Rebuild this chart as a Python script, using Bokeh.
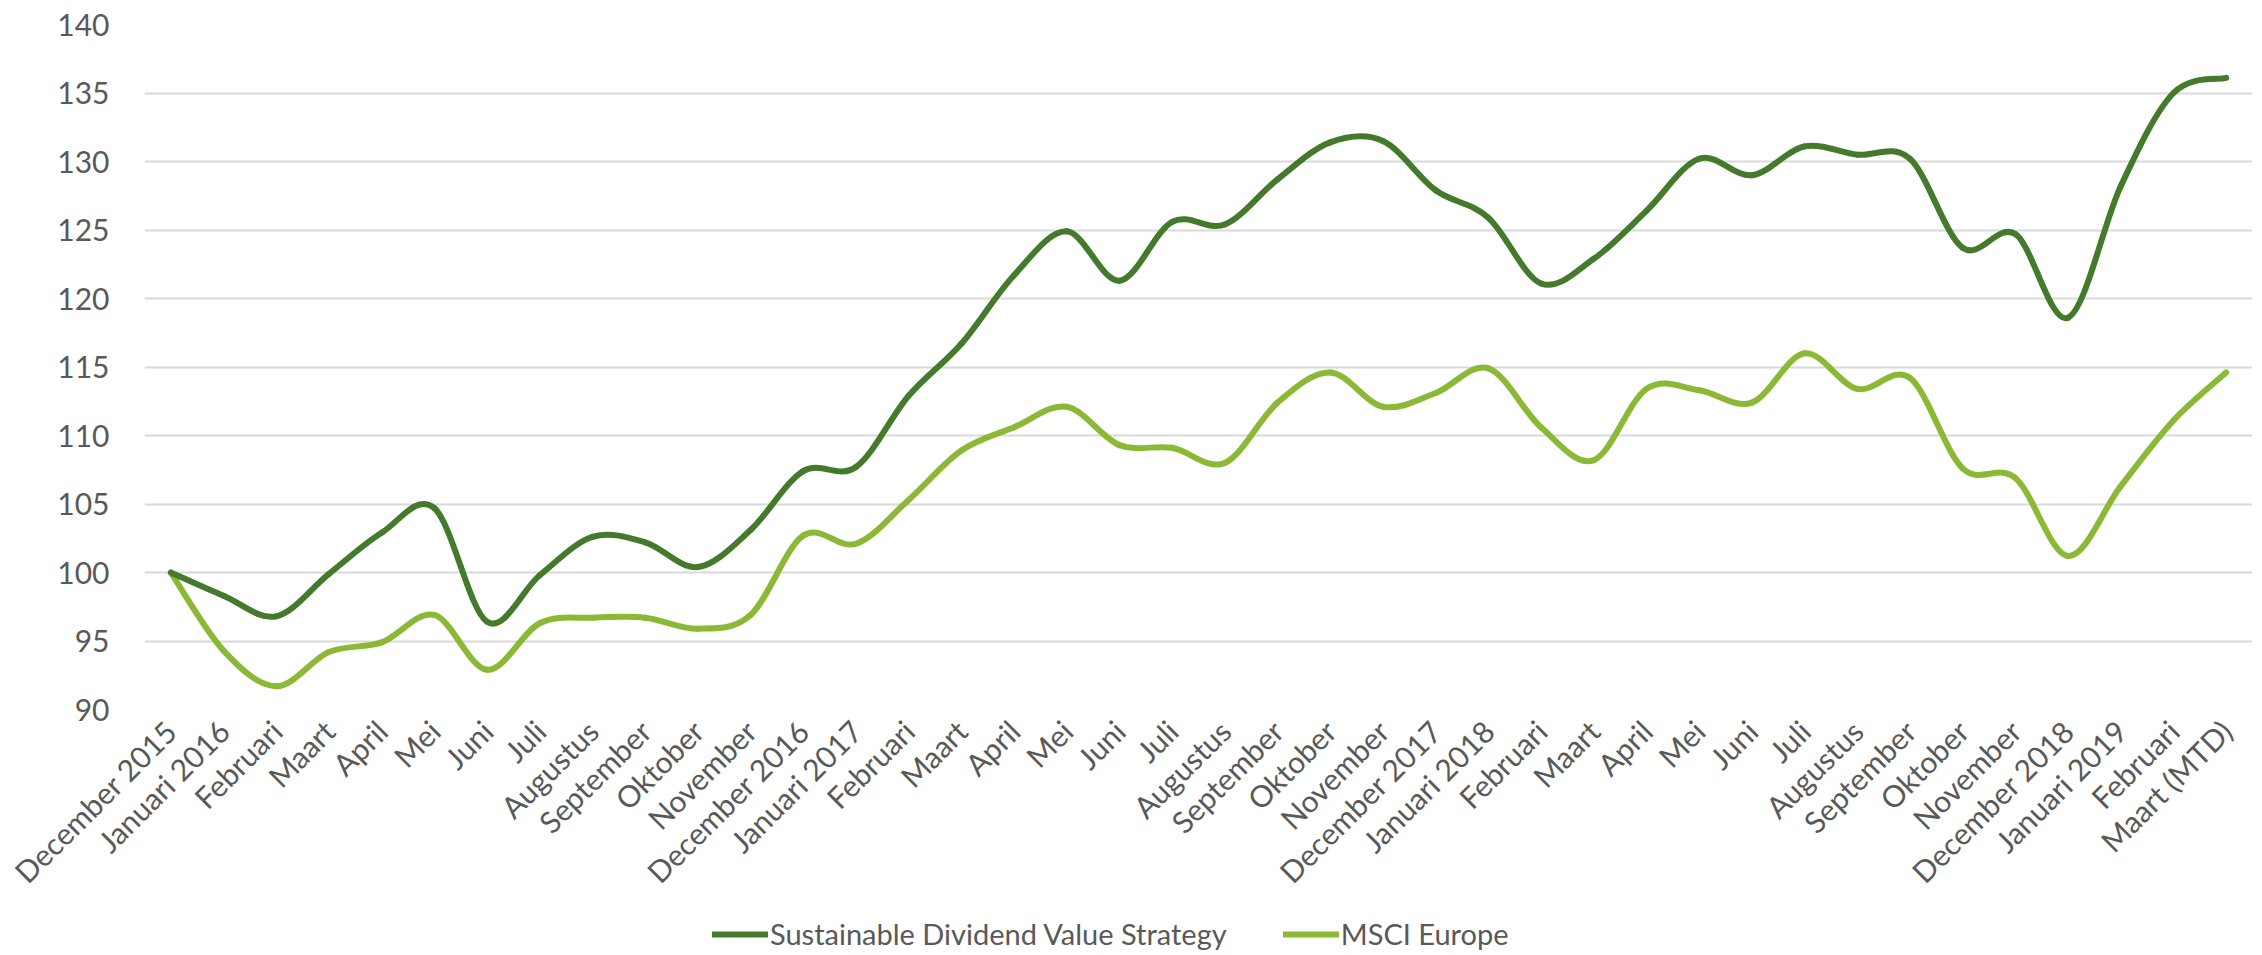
from bokeh.plotting import figure
from bokeh.layouts import column
from bokeh.models import FixedTicker, Legend, LegendItem, Range1d, ColumnDataSource
from bokeh.embed import file_html
from bokeh.resources import INLINE

months = ["December 2015", "Januari 2016", "Februari", "Maart", "April", "Mei", "Juni", "Juli",
          "Augustus", "September", "Oktober", "November", "December 2016", "Januari 2017",
          "Februari", "Maart", "April", "Mei", "Juni", "Juli", "Augustus", "September", "Oktober",
          "November", "December 2017", "Januari 2018", "Februari", "Maart", "April", "Mei", "Juni",
          "Juli", "Augustus", "September", "Oktober", "November", "December 2018", "Januari 2019",
          "Februari", "Maart (MTD)"]

sdv = [100.0, 98.3, 96.8, 99.9, 102.9, 104.7, 96.4, 99.8, 102.6, 102.2,
       100.4, 103.1, 107.4, 107.7, 112.9, 116.7, 121.7, 124.9, 121.3, 125.6,
       125.4, 128.7, 131.4, 131.5, 127.9, 125.9, 121.1, 122.9, 126.4, 130.2,
       129.0, 131.1, 130.5, 130.2, 123.7, 124.7, 118.6, 128.2, 135.0, 136.1]

msci = [100.0, 94.3, 91.7, 94.2, 94.9, 96.9, 92.9, 96.3, 96.7, 96.7,
        95.9, 96.9, 102.7, 102.1, 105.3, 108.9, 110.6, 112.1, 109.3, 109.1,
        108.0, 112.4, 114.6, 112.1, 113.1, 114.9, 110.6, 108.2, 113.4, 113.3,
        112.4, 116.0, 113.4, 114.2, 107.6, 106.9, 101.2, 106.3, 111.1, 114.6]

series_names = ["Sustainable Dividend Value Strategy", "MSCI Europe"]
series_colors = ["#447a2b", "#8cb935"]

y_ticks = [90, 95, 100, 105, 110, 115, 120, 125, 130, 135, 140]


def smooth_segments(ys):
    """Cubic Bezier segments through every data point (Excel-style smoothed line)."""
    n = len(ys)
    xs = list(range(n))
    d = dict(x0=[], y0=[], x1=[], y1=[], cx0=[], cy0=[], cx1=[], cy1=[])
    for i in range(n - 1):
        a = max(i - 1, 0)
        b = min(i + 2, n - 1)
        d["x0"].append(xs[i]); d["y0"].append(ys[i])
        d["x1"].append(xs[i + 1]); d["y1"].append(ys[i + 1])
        d["cx0"].append(xs[i] + (xs[i + 1] - xs[a]) / 6.0)
        d["cy0"].append(ys[i] + (ys[i + 1] - ys[a]) / 6.0)
        d["cx1"].append(xs[i + 1] - (xs[b] - xs[i]) / 6.0)
        d["cy1"].append(ys[i + 1] - (ys[b] - ys[i]) / 6.0)
    return ColumnDataSource(d)


FONT = "Lato"
TXT = "#595959"
LW = 6

p = figure(width=2262, height=905, output_backend="svg", toolbar_location=None,
           x_range=Range1d(-0.5, len(months) - 0.5), y_range=Range1d(90, 140),
           min_border_left=144, min_border_right=10, min_border_top=24, min_border_bottom=190)
p.outline_line_color = None
p.background_fill_color = "white"
p.border_fill_color = "white"

# y axis
p.yaxis.ticker = FixedTicker(ticks=y_ticks)
p.yaxis.axis_line_color = None
p.yaxis.major_tick_line_color = None
p.yaxis.minor_tick_line_color = None
p.yaxis.major_label_text_font = FONT
p.yaxis.major_label_text_font_size = "30px"
p.yaxis.major_label_text_color = TXT
p.yaxis.major_label_standoff = 29

# x axis
p.xaxis.ticker = FixedTicker(ticks=list(range(len(months))))
p.xaxis.major_label_overrides = {i: m for i, m in enumerate(months)}
p.xaxis.major_label_orientation = 0.7854
p.xaxis.axis_line_color = None
p.xaxis.major_tick_line_color = None
p.xaxis.minor_tick_line_color = None
p.xaxis.major_label_text_font = FONT
p.xaxis.major_label_text_font_size = "30px"
p.xaxis.major_label_text_color = TXT
p.xaxis.major_label_standoff = 10

p.xgrid.grid_line_color = None
p.ygrid.ticker = FixedTicker(ticks=y_ticks)
p.ygrid.grid_line_color = "#d9d9d9"
p.ygrid.grid_line_width = 2

for ys, col in [(msci, series_colors[1]), (sdv, series_colors[0])]:
    src = smooth_segments(ys)
    p.bezier(x0="x0", y0="y0", x1="x1", y1="y1", cx0="cx0", cy0="cy0", cx1="cx1", cy1="cy1",
             source=src, line_color=col, line_width=LW, line_cap="round")

# legend strip below the chart (its frame is aligned with the chart frame by the column layout)
lg = figure(width=2262, height=50, output_backend="svg", toolbar_location=None,
            x_range=Range1d(-0.5, len(months) - 0.5), y_range=Range1d(0, 1),
            min_border_left=144, min_border_right=10, min_border_top=0, min_border_bottom=0)
lg.axis.visible = False
lg.grid.visible = False
lg.outline_line_color = None
lg.border_fill_color = "white"
items = []
for name, ys, col in zip(series_names, [sdv, msci], series_colors):
    # series drawn off-view (y range 0..1) so that only the legend swatch is visible
    r = lg.line(x=list(range(len(months))), y=ys, line_color=col, line_width=LW, line_cap="round")
    items.append(LegendItem(label=name, renderers=[r]))
legend = Legend(items=items, orientation="horizontal", location=(568, 4),
                label_text_font=FONT, label_text_font_size="29px", label_text_color=TXT,
                glyph_width=56, glyph_height=30, label_standoff=2, spacing=56,
                padding=0, margin=0, border_line_color=None, background_fill_alpha=0)
lg.add_layout(legend, "center")

layout = column(p, lg, spacing=0)
open("out.html", "w").write(file_html(layout, INLINE))
